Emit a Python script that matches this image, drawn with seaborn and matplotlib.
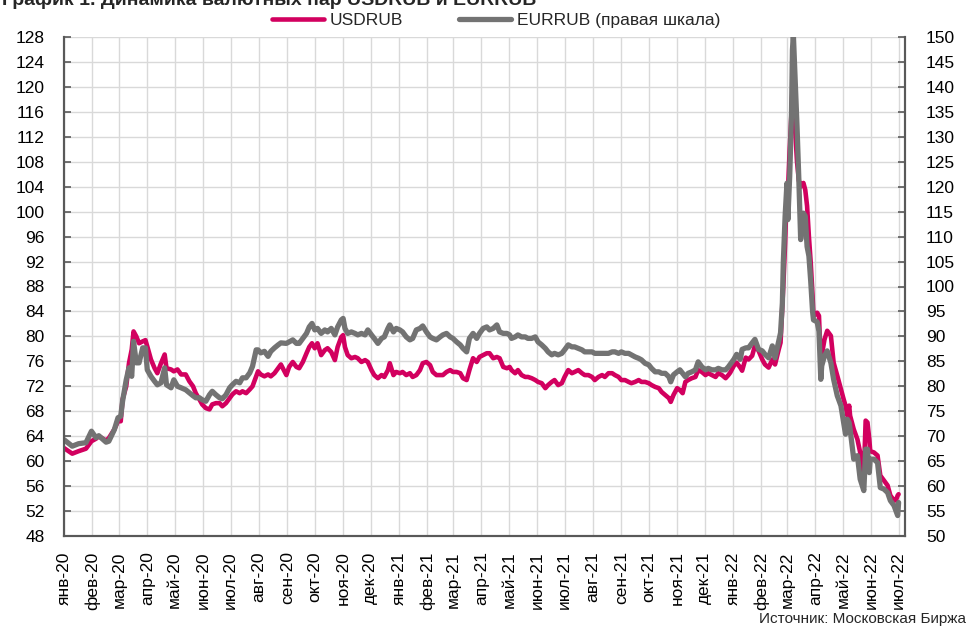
import numpy as np
import pandas as pd
import matplotlib
matplotlib.use("Agg")
import matplotlib.pyplot as plt
import seaborn as sns

# ---------------- data ----------------
# day offsets from 2020-01-01
day = [0, 9, 16, 24, 30, 35, 38, 46, 49, 55, 59, 62, 64, 68, 71, 74, 76, 79, 82, 86,
       89, 91, 95, 99, 102, 106, 110, 112, 117, 120, 124, 128, 133, 137, 141, 144, 148,
       151, 155, 159, 162, 166, 170, 173, 177, 181, 184, 188, 192, 195, 199, 203, 206,
       210, 212, 215, 219, 223, 226, 230, 234, 237,
       243, 246, 250, 254, 257, 261, 265, 268, 271, 274, 277, 281, 285, 288, 292, 296,
       299, 303, 305, 307, 310, 314, 318, 321, 325, 329, 332, 336, 339, 343, 347, 350,
       354, 356, 360, 363, 367, 370, 374, 378, 381, 385, 389, 392, 396, 400, 403, 407,
       411, 414, 418, 422, 425, 429, 433, 436, 440, 443, 447, 451, 454, 458, 462, 465,
       469, 473, 476, 480, 484, 487,
       489, 493, 496, 500, 504, 507, 511, 515, 518, 522, 526, 529, 533, 536, 540, 544,
       547, 551, 555, 558, 562, 566, 569, 573, 577, 580, 584, 588, 591, 595, 599, 602,
       606, 609, 613, 617, 620, 624, 628, 631, 635, 639, 642, 646, 650, 653, 657, 661,
       663, 666, 670, 673, 676, 679, 682, 686, 690, 693, 697, 701, 704, 708, 712, 715,
       719, 723, 726,
       728, 732, 735, 739, 741, 745, 748, 752, 755, 759, 763, 766, 770, 774, 777, 781,
       783, 785, 786, 788, 790, 791, 793, 795, 796, 797, 799, 801, 803, 805, 807, 808,
       810, 812, 814, 816, 818, 819, 821, 823, 825, 827, 828, 831, 834, 838, 841, 845,
       849, 852, 854, 856, 858, 859, 863, 867, 870, 874, 876, 878, 880, 881, 885, 889,
       892, 896, 900, 903, 907, 909, 911, 912]

usdrub = [62.1, 61.2, 61.6, 62.0, 63.2, 63.6, 64.0, 63.3, 63.7, 65.1, 66.4, 66.4, 69.9,
          72.0, 75.7, 77.9, 80.8, 80.0, 78.9, 79.2, 79.4, 78.4, 76.3, 74.9, 74.1, 75.7,
          77.1, 74.9, 74.7, 74.4, 74.7, 73.9, 73.9, 72.8, 72.0, 70.9, 69.9, 69.1, 68.5,
          68.3, 69.1, 69.3, 69.3, 68.8, 69.3, 70.1, 70.7, 71.2, 70.9, 71.2, 70.9, 71.5,
          72.0, 73.6, 74.4, 73.9, 73.6, 73.9, 73.6, 74.1, 74.9, 75.5,
          73.8, 75.1, 75.9, 75.1, 74.9, 75.9, 77.3, 78.3, 78.9, 78.1, 78.9, 77.0, 77.8,
          78.1, 77.5, 76.2, 78.3, 79.9, 80.2, 78.3, 77.0, 76.5, 76.7, 76.5, 75.9, 76.2,
          75.9, 74.6, 73.8, 73.3, 73.8, 73.5, 74.6, 75.7, 73.8, 74.3, 74.1, 74.3, 73.8,
          74.1, 73.5, 73.8, 74.6, 75.7, 75.9, 75.4, 74.3, 73.8, 73.8, 73.8, 74.3, 74.6,
          74.3, 74.3, 74.1, 73.3, 73.0, 74.6, 76.5, 75.9, 76.7, 77.0, 77.3, 77.3, 76.5,
          76.7, 76.5, 75.1, 74.9, 75.1,
          74.6, 74.1, 74.6, 73.8, 73.5, 73.5, 73.3, 73.0, 72.7, 72.5, 71.7, 72.2, 72.7,
          73.0, 72.2, 72.5, 73.5, 74.6, 74.1, 74.3, 74.6, 74.1, 73.8, 73.8, 73.5, 73.0,
          73.5, 73.8, 73.5, 74.1, 74.1, 73.8, 73.5, 73.0, 73.0, 72.7, 72.5, 72.7, 73.0,
          72.7, 72.7, 72.5, 72.2, 71.9, 71.7, 71.1, 70.6, 70.1, 69.5, 70.6, 71.7, 71.4,
          70.9, 72.7, 73.0, 73.3, 73.5, 74.6, 74.3, 73.8, 74.1, 73.8, 73.5, 74.1, 73.8,
          73.3, 73.8,
          74.2, 75.3, 75.8, 75.0, 74.5, 76.6, 76.3, 76.9, 78.5, 77.7, 76.3, 75.5, 75.0,
          76.3, 75.5, 77.9, 79.0, 84.9, 88.0, 95.0, 104.0, 103.0, 110.0, 116.0, 119.5,
          120.6, 113.0, 108.0, 105.0, 104.0, 104.5, 104.6, 103.5, 100.9, 96.0, 91.8,
          86.5, 83.3, 83.5, 83.8, 83.3, 75.8, 76.9, 79.5, 80.9, 80.1, 75.8, 73.7, 71.5,
          69.9, 68.9, 67.3, 68.9, 67.3, 65.1, 63.5, 61.4, 57.7, 66.5, 66.2, 63.5, 61.6,
          61.4, 60.9, 57.7, 56.9, 56.1, 54.5, 53.7, 53.7, 54.5, 54.7]

eurrub = [69.3, 68.0, 68.5, 68.7, 71.0, 69.7, 70.1, 68.8, 69.0, 71.3, 73.7, 74.0, 77.0,
          81.3, 83.7, 82.0, 89.0, 84.7, 84.7, 87.7, 87.7, 83.3, 82.0, 81.0, 80.3, 80.7,
          83.7, 80.3, 79.7, 81.3, 80.0, 79.7, 79.3, 78.7, 78.1, 77.7, 77.7, 77.3, 77.0,
          78.3, 79.0, 78.3, 77.7, 77.5, 78.3, 79.7, 80.3, 81.0, 80.7, 81.7, 81.7, 82.7,
          84.0, 87.3, 87.3, 86.7, 87.0, 86.0, 87.0, 87.7, 88.3, 88.7,
          88.6, 88.9, 89.3, 88.6, 88.6, 89.6, 90.6, 91.9, 92.6, 91.3, 91.6, 90.6, 91.3,
          90.9, 91.6, 90.3, 91.9, 93.3, 93.6, 91.6, 90.6, 90.9, 90.6, 90.3, 90.6, 90.3,
          91.3, 90.3, 89.6, 88.6, 89.6, 89.9, 91.6, 92.3, 90.9, 91.6, 91.3, 90.9, 89.9,
          89.3, 89.6, 91.3, 91.6, 92.1, 90.9, 89.9, 89.6, 89.3, 89.9, 90.3, 90.6, 89.9,
          89.6, 88.9, 88.3, 87.6, 86.9, 89.6, 90.6, 89.6, 90.6, 91.6, 91.9, 91.3, 91.6,
          92.3, 90.9, 90.6, 90.6, 90.3,
          89.6, 89.9, 90.3, 89.9, 89.9, 89.6, 89.6, 89.9, 88.9, 88.3, 87.6, 86.9, 86.3,
          86.6, 86.3, 86.6, 87.3, 88.3, 87.9, 87.9, 87.6, 87.3, 86.9, 86.9, 86.9, 86.6,
          86.6, 86.6, 86.6, 86.6, 86.9, 86.9, 86.6, 86.9, 86.6, 86.6, 86.3, 85.9, 85.6,
          85.3, 84.6, 84.3, 83.6, 82.9, 82.9, 82.6, 82.6, 81.9, 80.9, 82.3, 82.9, 83.3,
          82.6, 81.9, 82.6, 82.9, 83.3, 84.9, 83.9, 83.3, 83.6, 83.3, 83.3, 83.6, 83.3,
          83.3, 83.9,
          84.4, 85.4, 86.4, 85.4, 87.4, 87.7, 87.7, 88.7, 89.4, 87.4, 87.1, 86.4, 85.7,
          88.1, 85.7, 89.1, 90.7, 96.7, 104.7, 114.1, 120.7, 113.4, 122.1, 134.7, 147.4,
          150.5, 141.4, 132.1, 121.4, 109.4, 114.1, 114.7, 114.1, 108.0, 106.1, 101.0,
          95.0, 93.3, 93.1, 92.9, 91.0, 81.4, 84.1, 86.1, 87.1, 84.7, 81.4, 78.1, 76.1,
          72.7, 70.4, 73.4, 72.7, 71.4, 65.4, 66.1, 61.4, 59.1, 67.4, 67.4, 62.7, 65.4,
          65.4, 64.7, 59.7, 59.4, 58.7, 57.1, 56.1, 55.1, 54.1, 56.7]

month_labels = ["янв-20", "фев-20", "мар-20", "апр-20", "май-20", "июн-20", "июл-20",
                "авг-20", "сен-20", "окт-20", "ноя-20", "дек-20",
                "янв-21", "фев-21", "мар-21", "апр-21", "май-21", "июн-21", "июл-21",
                "авг-21", "сен-21", "окт-21", "ноя-21", "дек-21",
                "янв-22", "фев-22", "мар-22", "апр-22", "май-22", "июн-22", "июл-22"]

left_ticks = list(range(48, 129, 4))
right_ticks = list(range(50, 151, 5))

series_names = ["USDRUB", "EURRUB (правая шкала)"]
title_text = "График 1. Динамика валютных пар USDRUB и EURRUB"
source_text = "Источник: Московская Биржа"

# ---------------- styling ----------------
PINK = "#D2005F"
GRAY = "#737373"
AXIS = "#595959"
GRID = "#D9D9D9"

sns.set_theme(style="white")
plt.rcParams["font.family"] = ["Liberation Sans", "DejaVu Sans"]

dates = pd.Timestamp("2020-01-01") + pd.to_timedelta(day, unit="D")
df = pd.DataFrame({"date": dates, "usd": usdrub, "eur": eurrub})

W, H = 967, 629
fig = plt.figure(figsize=(W / 100, H / 100), dpi=100)
ax = fig.add_axes([64 / W, 1 - 536 / H, (905 - 64) / W, (536 - 37) / H])

sns.lineplot(data=df, x="date", y="usd", ax=ax, color=PINK, linewidth=3.3,
             legend=False, solid_joinstyle="round")
ax2 = ax.twinx()
sns.lineplot(data=df, x="date", y="eur", ax=ax2, color=GRAY, linewidth=3.8,
             legend=False, solid_joinstyle="round")

FS = 12.5
month_ticks = pd.date_range("2020-01-01", periods=len(month_labels), freq="MS")
ax.set_xlim(pd.Timestamp("2020-01-01"), pd.Timestamp("2022-07-08"))
ax.set_xticks(month_ticks)
ax.set_xticklabels(month_labels, rotation=90, fontsize=FS)

ax.set_ylim(left_ticks[0], left_ticks[-1])
ax.set_yticks(left_ticks)
ax.set_yticklabels([str(t) for t in left_ticks], fontsize=FS)
ax2.set_ylim(right_ticks[0], right_ticks[-1])
ax2.set_yticks(right_ticks)
ax2.set_yticklabels([str(t) for t in right_ticks], fontsize=FS)

for a in (ax, ax2):
    a.set_xlabel("")
    a.set_ylabel("")

ax.grid(True, color=GRID, linewidth=1.0)
ax.set_axisbelow(True)
ax2.grid(False)

for a in (ax, ax2):
    a.spines["top"].set_visible(False)
    for s in ("left", "right", "bottom"):
        a.spines[s].set_color(AXIS)
        a.spines[s].set_linewidth(1.5)

ax.tick_params(axis="y", direction="in", length=5, width=1.2, color=AXIS,
               pad=14, labelcolor="black")
ax2.tick_params(axis="y", direction="in", length=5, width=1.2, color=AXIS,
                pad=15, labelcolor="black")
ax.tick_params(axis="x", length=0, pad=11, labelcolor="black")

handles = [ax.lines[0], ax2.lines[0]]
fig.legend(handles, series_names, loc="center", bbox_to_anchor=(496 / W, 1 - 20 / H),
           ncol=2, frameon=False, fontsize=FS, handlelength=3.0,
           handletextpad=0.35, columnspacing=3.2)

fig.text(2 / W, 1 - 5 / H, title_text, fontsize=14, fontweight="bold",
         va="baseline", ha="left")
fig.text(966 / W, 1 - 623 / H, source_text, fontsize=11, va="baseline", ha="right")

fig.savefig("out.png", dpi=100)
